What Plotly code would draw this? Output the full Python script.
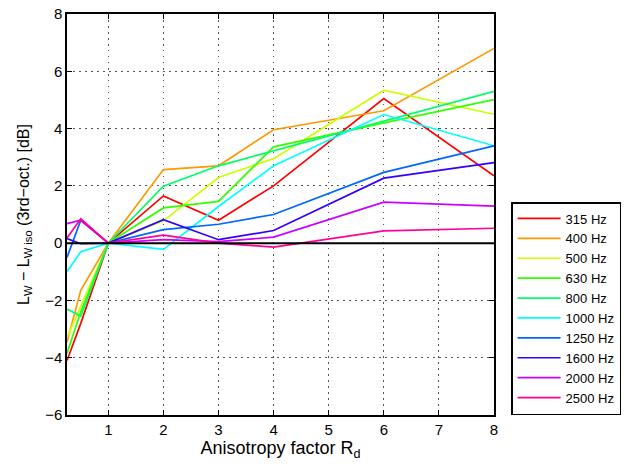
import plotly.graph_objects as go

# anisotropy factor values
rd = [0.25, 0.5, 1, 2, 3, 4, 6, 8]

labels = ['315 Hz', '400 Hz', '500 Hz', '630 Hz', '800 Hz',
          '1000 Hz', '1250 Hz', '1600 Hz', '2000 Hz', '2500 Hz']
colors = ['#ff0000', '#ff9900', '#ccff00', '#33ff00', '#00ff66',
          '#00ffff', '#0066ff', '#3300ff', '#cc00ff', '#ff0099']

l315 = [-4.1, -2.8, 0, 1.65, 0.8, 2.0, 5.05, 2.35]
l400 = [-3.45, -1.65, 0, 2.57, 2.7, 3.96, 4.62, 6.8]
l500 = [-3.3, -2.2, 0, 0.78, 2.29, 2.95, 5.34, 4.5]
l630 = [-3.85, -2.4, 0, 1.23, 1.46, 3.36, 4.2, 5.01]
l800 = [-2.3, -2.55, 0, 1.99, 2.7, 3.22, 4.25, 5.3]
l1000 = [-1.0, -0.3, 0, -0.22, 1.28, 2.7, 4.49, 3.4]
l1250 = [-0.5, 0.8, 0, 0.47, 0.66, 1.0, 2.47, 3.4]
l1600 = [0.16, -0.02, 0, 0.82, 0.12, 0.44, 2.27, 2.81]
l2000 = [0.68, 0.8, 0, 0.12, 0.05, 0.21, 1.43, 1.29]
l2500 = [0.18, 0.85, 0, 0.28, 0.0, -0.14, 0.43, 0.52]

series = [l315, l400, l500, l630, l800, l1000, l1250, l1600, l2000, l2500]

fig = go.Figure()
for name, col, ys in zip(labels, colors, series):
    fig.add_trace(go.Scatter(x=rd, y=ys, mode='lines', name=name,
                             line=dict(color=col, width=1.7)))

fig.add_hline(y=0, line=dict(color='black', width=2), layer='above')

fig.update_layout(
    width=634, height=468,
    margin=dict(l=67, r=140, t=14, b=53),
    paper_bgcolor='white', plot_bgcolor='white',
    font=dict(family='Liberation Sans, Arial, sans-serif', size=15, color='black'),
    legend=dict(x=1.04, y=0, xanchor='left', yanchor='bottom',
                bordercolor='black', borderwidth=1.5, bgcolor='white',
                font=dict(size=13), tracegroupgap=0, itemwidth=43),
    showlegend=True,
)
grid = dict(showline=True, linecolor='black', linewidth=1.5, mirror='ticks',
            ticks='inside', ticklen=5, tickcolor='black', automargin=False,
            showgrid=True, gridcolor='#555555', griddash='1.5px,4.5px', gridwidth=1,
            zeroline=False)
fig.update_xaxes(range=[0.25, 8], tickvals=[1, 2, 3, 4, 5, 6, 7, 8],
                 title=dict(text='Anisotropy factor R<sub>d</sub>', standoff=0), **grid)
fig.update_yaxes(range=[-6, 8], tickvals=[-6, -4, -2, 0, 2, 4, 6, 8],
                 ticktext=['\u22126', '\u22124', '\u22122', '0', '2', '4', '6', '8'],
                 title=dict(text='L<sub>W</sub> \u2212 L<sub>W iso</sub> (3rd\u2212oct.) [dB]',
                            standoff=12, font=dict(size=16)), **grid)

fig.write_html('out.html', config={'displayModeBar': False},
               post_script="document.body.style.margin='0';")
